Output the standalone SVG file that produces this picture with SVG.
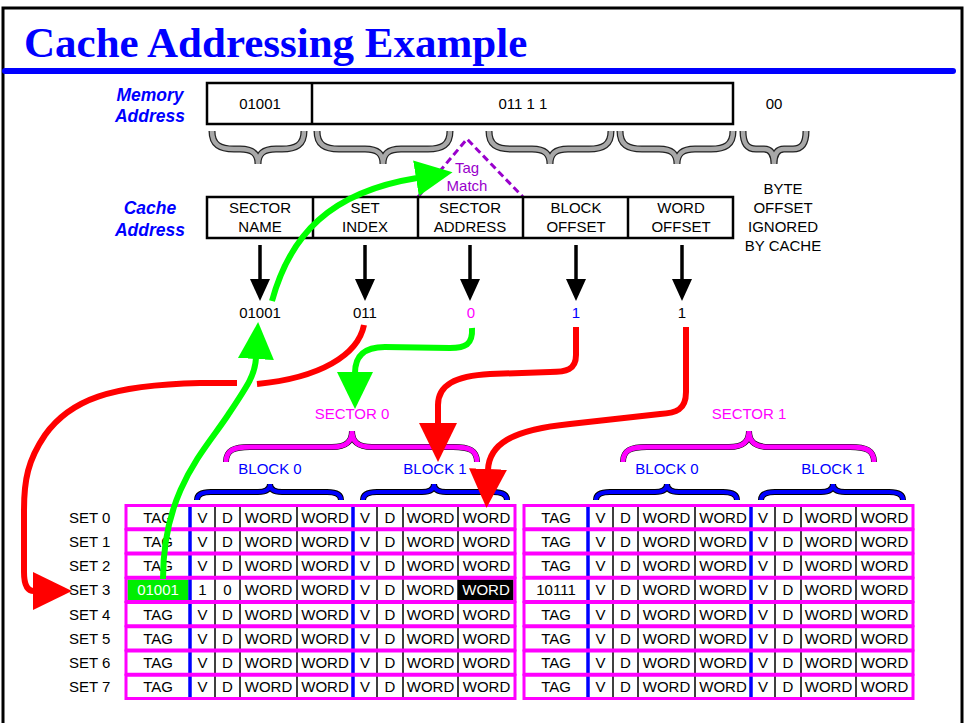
<svg xmlns="http://www.w3.org/2000/svg" width="966" height="723" viewBox="0 0 966 723">
  <style>
    .t { font-family: "Liberation Sans", Arial, Helvetica, sans-serif; font-size: 15px; text-anchor: middle; fill: #000; }
    .w { fill: #fff; }
    .lbl { font-family: "Liberation Sans", Arial, Helvetica, sans-serif; font-size: 17.5px; font-weight: bold; font-style: italic; text-anchor: middle; fill: #0000ff; }
    .box { fill: #fff; stroke: #000; stroke-width: 2.5; }
    .div { stroke: #000; stroke-width: 2.5; }
    .braceO { fill: none; stroke: #222; stroke-width: 7; }
    .braceG { fill: none; stroke: #a8a8a8; stroke-width: 4.5; }
    .braceM { fill: none; stroke: #ff00ff; stroke-width: 5; }
    .braceBO { fill: none; stroke: #000; stroke-width: 6; }
    .braceB { fill: none; stroke: #0000ff; stroke-width: 4; }
    .row { fill: none; stroke: #ff00ff; stroke-width: 3; }
    .cell { stroke: #000; stroke-width: 1.5; }
    .blk { stroke: #0000ff; stroke-width: 3.5; }
    .down { fill: none; stroke: #000; stroke-width: 3.5; marker-end: url(#headK); }
    .green { fill: none; stroke: #00ff00; stroke-width: 6; marker-end: url(#headG); }
    .red { fill: none; stroke: #ff0000; stroke-width: 6; }
  </style>
  <defs>
    <marker id="headK" markerUnits="userSpaceOnUse" markerWidth="24" markerHeight="24" viewBox="0 -12 24 24" refX="1" refY="0" orient="auto">
      <path d="M0,-10 L22,0 L0,10 Z" fill="#000"/>
    </marker>
    <marker id="headG" markerUnits="userSpaceOnUse" markerWidth="40" markerHeight="40" viewBox="0 -20 40 40" refX="1" refY="0" orient="auto">
      <path d="M0,-18 L37,0 L0,18 Z" fill="#00ff00"/>
    </marker>
    <marker id="headR" markerUnits="userSpaceOnUse" markerWidth="42" markerHeight="42" viewBox="0 -21 42 42" refX="1" refY="0" orient="auto">
      <path d="M0,-19 L39,0 L0,19 Z" fill="#ff0000"/>
    </marker>
  </defs>

  <rect width="966" height="723" fill="#fff"/>
  <!-- slide frame and heading -->
  <rect x="3" y="8" width="959" height="740" fill="none" stroke="#000" stroke-width="3"/>
  <g id="title">
    <text x="24" y="57" font-family="'Liberation Serif', 'Times New Roman', serif" font-size="43" font-weight="bold" fill="#0000ff">Cache Addressing Example</text>
    <path d="M5,71 L953,71" stroke="#0000ff" stroke-width="6" stroke-linecap="round"/>
  </g>

  <!-- memory address -->
  <g id="memory-address">
    <text class="lbl" x="150" y="101">Memory</text>
    <text class="lbl" x="150" y="122">Address</text>
    <rect class="box" x="207" y="83" width="526" height="41"/>
    <line class="div" x1="312" y1="83" x2="312" y2="124"/>
    <text class="t" x="260" y="109">01001</text>
    <text class="t" x="523" y="109">011 1 1</text>
    <text class="t" x="774" y="109">00</text>
  </g>

  <!-- field braces -->
  <g id="field-braces">
    <path class="braceO" d="M212,131 C212,145 220,149 234,149 L240,149 C252,149 258,153 258,164 C258,153 264,149 276,149 L282,149 C296,149 304,145 304,131"/>
    <path class="braceG" d="M212,131 C212,145 220,149 234,149 L240,149 C252,149 258,153 258,164 C258,153 264,149 276,149 L282,149 C296,149 304,145 304,131"/>
    <path class="braceO" d="M317,131 C317,145 325,149 339,149 L365,149 C377,149 383,153 383,164 C383,153 389,149 401,149 L428,149 C442,149 450,145 450,131"/>
    <path class="braceG" d="M317,131 C317,145 325,149 339,149 L365,149 C377,149 383,153 383,164 C383,153 389,149 401,149 L428,149 C442,149 450,145 450,131"/>
    <path class="braceO" d="M489,131 C489,145 497,149 511,149 L532,149 C544,149 550,153 550,164 C550,153 556,149 568,149 L589,149 C603,149 611,145 611,131"/>
    <path class="braceG" d="M489,131 C489,145 497,149 511,149 L532,149 C544,149 550,153 550,164 C550,153 556,149 568,149 L589,149 C603,149 611,145 611,131"/>
    <path class="braceO" d="M620,131 C620,145 628,149 642,149 L659,149 C671,149 677,153 677,164 C677,153 683,149 695,149 L711,149 C725,149 733,145 733,131"/>
    <path class="braceG" d="M620,131 C620,145 628,149 642,149 L659,149 C671,149 677,153 677,164 C677,153 683,149 695,149 L711,149 C725,149 733,145 733,131"/>
    <path class="braceO" d="M743,131 C743,145 748,149 756,149 L764,149 C770,149 774,153 774,164 C774,153 778,149 784,149 L793,149 C801,149 806,145 806,131"/>
    <path class="braceG" d="M743,131 C743,145 748,149 756,149 L764,149 C770,149 774,153 774,164 C774,153 778,149 784,149 L793,149 C801,149 806,145 806,131"/>
  </g>

  <!-- tag match -->
  <g id="tag-match">
    <polyline points="418,197 467,139 523,197" fill="none" stroke="#9900cc" stroke-width="3" stroke-dasharray="7 4"/>
    <text class="t" x="467" y="173" fill="#9900cc" style="fill:#9900cc">Tag</text>
    <text class="t" x="467" y="191" style="fill:#9900cc">Match</text>
  </g>

  <!-- cache address -->
  <g id="cache-address">
    <text class="lbl" x="150" y="214">Cache</text>
    <text class="lbl" x="150" y="236">Address</text>
    <rect class="box" x="207" y="197" width="526" height="41"/>
    <line class="div" x1="313" y1="197" x2="313" y2="238"/>
    <line class="div" x1="418" y1="197" x2="418" y2="238"/>
    <line class="div" x1="523" y1="197" x2="523" y2="238"/>
    <line class="div" x1="628" y1="197" x2="628" y2="238"/>
    <text class="t" x="260" y="213">SECTOR</text>
    <text class="t" x="260" y="232">NAME</text>
    <text class="t" x="365" y="213">SET</text>
    <text class="t" x="365" y="232">INDEX</text>
    <text class="t" x="470" y="213">SECTOR</text>
    <text class="t" x="470" y="232">ADDRESS</text>
    <text class="t" x="576" y="213">BLOCK</text>
    <text class="t" x="576" y="232">OFFSET</text>
    <text class="t" x="681" y="213">WORD</text>
    <text class="t" x="681" y="232">OFFSET</text>
  </g>
  <g id="byte-offset">
    <text class="t" x="783" y="194">BYTE</text>
    <text class="t" x="783" y="213">OFFSET</text>
    <text class="t" x="783" y="232">IGNORED</text>
    <text class="t" x="783" y="251">BY CACHE</text>
  </g>

  <!-- field values -->
  <g id="values">
    <text class="t" x="260" y="318">01001</text>
    <text class="t" x="365" y="318">011</text>
    <text class="t" x="471" y="318" style="fill:#ff00ff">0</text>
    <text class="t" x="576" y="318" style="fill:#0000ff">1</text>
    <text class="t" x="682" y="318">1</text>
  </g>

  <!-- sector and block labels -->
  <g id="sector-0">
    <text class="t" x="352" y="419" style="fill:#ff00ff">SECTOR 0</text>
    <path class="braceBO" d="M226,462 C226,450 234,447 250,447 L332,447 C346,447 352,442 352,431 C352,442 358,447 372,447 L453,447 C469,447 477,450 477,462"/>
    <path class="braceM" d="M226,462 C226,450 234,447 250,447 L332,447 C346,447 352,442 352,431 C352,442 358,447 372,447 L453,447 C469,447 477,450 477,462"/>
    <text class="t" x="270" y="474" style="fill:#0000ff">BLOCK 0</text>
    <text class="t" x="435" y="474" style="fill:#0000ff">BLOCK 1</text>
    <path class="braceBO" d="M197,500 C197,494 202,492 211,492 L258,492 C266,492 270,489 270,484 C270,489 274,492 282,492 L327,492 C336,492 341,494 341,500"/>
    <path class="braceB" d="M197,500 C197,494 202,492 211,492 L258,492 C266,492 270,489 270,484 C270,489 274,492 282,492 L327,492 C336,492 341,494 341,500"/>
    <path class="braceBO" d="M363,500 C363,494 368,492 377,492 L422,492 C430,492 434,489 434,484 C434,489 438,492 446,492 L493,492 C502,492 507,494 507,500"/>
    <path class="braceB" d="M363,500 C363,494 368,492 377,492 L422,492 C430,492 434,489 434,484 C434,489 438,492 446,492 L493,492 C502,492 507,494 507,500"/>
  </g>
  <g id="sector-1">
    <text class="t" x="749" y="419" style="fill:#ff00ff">SECTOR 1</text>
    <path class="braceBO" d="M623,462 C623,450 631,447 647,447 L729,447 C743,447 749,442 749,431 C749,442 755,447 769,447 L850,447 C866,447 874,450 874,462"/>
    <path class="braceM" d="M623,462 C623,450 631,447 647,447 L729,447 C743,447 749,442 749,431 C749,442 755,447 769,447 L850,447 C866,447 874,450 874,462"/>
    <text class="t" x="667" y="474" style="fill:#0000ff">BLOCK 0</text>
    <text class="t" x="833" y="474" style="fill:#0000ff">BLOCK 1</text>
    <path class="braceBO" d="M596,500 C596,494 601,492 610,492 L655,492 C663,492 667,489 667,484 C667,489 671,492 679,492 L723,492 C732,492 737,494 737,500"/>
    <path class="braceB" d="M596,500 C596,494 601,492 610,492 L655,492 C663,492 667,489 667,484 C667,489 671,492 679,492 L723,492 C732,492 737,494 737,500"/>
    <path class="braceBO" d="M761,500 C761,494 766,492 775,492 L821,492 C829,492 833,489 833,484 C833,489 837,492 845,492 L889,492 C898,492 903,494 903,500"/>
    <path class="braceB" d="M761,500 C761,494 766,492 775,492 L821,492 C829,492 833,489 833,484 C833,489 837,492 845,492 L889,492 C898,492 903,494 903,500"/>
  </g>

  <!-- set labels -->
  <g id="set-labels" class="t" style="text-anchor:start">
    <text x="69" y="522.5">SET 0</text>
    <text x="69" y="546.75">SET 1</text>
    <text x="69" y="571">SET 2</text>
    <text x="69" y="595.25">SET 3</text>
    <text x="69" y="619.5">SET 4</text>
    <text x="69" y="643.75">SET 5</text>
    <text x="69" y="668">SET 6</text>
    <text x="69" y="692.25">SET 7</text>
  </g>

  <!-- sector 0 cache lines -->
  <g id="table-sector-0">
    <rect x="127.5" y="579.5" width="61" height="21" fill="#00ee00"/>
    <rect x="458" y="579.5" width="55.5" height="21" fill="#000"/>
    <g>
      <line class="cell" x1="215" y1="505" x2="215" y2="699"/>
      <line class="cell" x1="240" y1="505" x2="240" y2="699"/>
      <line class="cell" x1="297" y1="505" x2="297" y2="699"/>
      <line class="cell" x1="377" y1="505" x2="377" y2="699"/>
      <line class="cell" x1="403" y1="505" x2="403" y2="699"/>
      <line class="cell" x1="458" y1="505" x2="458" y2="699"/>
      <line class="blk" x1="190" y1="505" x2="190" y2="699"/>
      <line class="blk" x1="353" y1="505" x2="353" y2="699"/>
    </g>
    <rect class="row" x="126" y="505.5" width="389" height="23.25"/>
    <rect class="row" x="126" y="529.75" width="389" height="23.25"/>
    <rect class="row" x="126" y="554" width="389" height="23.25"/>
    <rect class="row" x="126" y="578.25" width="389" height="23.25"/>
    <rect class="row" x="126" y="602.5" width="389" height="23.25"/>
    <rect class="row" x="126" y="626.75" width="389" height="23.25"/>
    <rect class="row" x="126" y="651" width="389" height="23.25"/>
    <rect class="row" x="126" y="675.25" width="389" height="23.25"/>
    <text class="t" y="522.5"><tspan x="158">TAG</tspan><tspan x="202.5">V</tspan><tspan x="227.5">D</tspan><tspan x="268.5">WORD</tspan><tspan x="325">WORD</tspan><tspan x="365">V</tspan><tspan x="390">D</tspan><tspan x="430.5">WORD</tspan><tspan x="486.5">WORD</tspan></text>
    <text class="t" y="546.75"><tspan x="158">TAG</tspan><tspan x="202.5">V</tspan><tspan x="227.5">D</tspan><tspan x="268.5">WORD</tspan><tspan x="325">WORD</tspan><tspan x="365">V</tspan><tspan x="390">D</tspan><tspan x="430.5">WORD</tspan><tspan x="486.5">WORD</tspan></text>
    <text class="t" y="571"><tspan x="158">TAG</tspan><tspan x="202.5">V</tspan><tspan x="227.5">D</tspan><tspan x="268.5">WORD</tspan><tspan x="325">WORD</tspan><tspan x="365">V</tspan><tspan x="390">D</tspan><tspan x="430.5">WORD</tspan><tspan x="486.5">WORD</tspan></text>
    <text class="t w" x="158" y="595.25">01001</text>
    <text class="t" y="595.25"><tspan x="202.5">1</tspan><tspan x="227.5">0</tspan><tspan x="268.5">WORD</tspan><tspan x="325">WORD</tspan><tspan x="365">V</tspan><tspan x="390">D</tspan><tspan x="430.5">WORD</tspan></text>
    <text class="t w" x="486" y="595.25">WORD</text>
    <text class="t" y="619.5"><tspan x="158">TAG</tspan><tspan x="202.5">V</tspan><tspan x="227.5">D</tspan><tspan x="268.5">WORD</tspan><tspan x="325">WORD</tspan><tspan x="365">V</tspan><tspan x="390">D</tspan><tspan x="430.5">WORD</tspan><tspan x="486.5">WORD</tspan></text>
    <text class="t" y="643.75"><tspan x="158">TAG</tspan><tspan x="202.5">V</tspan><tspan x="227.5">D</tspan><tspan x="268.5">WORD</tspan><tspan x="325">WORD</tspan><tspan x="365">V</tspan><tspan x="390">D</tspan><tspan x="430.5">WORD</tspan><tspan x="486.5">WORD</tspan></text>
    <text class="t" y="668"><tspan x="158">TAG</tspan><tspan x="202.5">V</tspan><tspan x="227.5">D</tspan><tspan x="268.5">WORD</tspan><tspan x="325">WORD</tspan><tspan x="365">V</tspan><tspan x="390">D</tspan><tspan x="430.5">WORD</tspan><tspan x="486.5">WORD</tspan></text>
    <text class="t" y="692.25"><tspan x="158">TAG</tspan><tspan x="202.5">V</tspan><tspan x="227.5">D</tspan><tspan x="268.5">WORD</tspan><tspan x="325">WORD</tspan><tspan x="365">V</tspan><tspan x="390">D</tspan><tspan x="430.5">WORD</tspan><tspan x="486.5">WORD</tspan></text>
  </g>

  <!-- sector 1 cache lines -->
  <g id="table-sector-1">
    <g>
      <line class="cell" x1="613" y1="505" x2="613" y2="699"/>
      <line class="cell" x1="638" y1="505" x2="638" y2="699"/>
      <line class="cell" x1="695" y1="505" x2="695" y2="699"/>
      <line class="cell" x1="775" y1="505" x2="775" y2="699"/>
      <line class="cell" x1="801" y1="505" x2="801" y2="699"/>
      <line class="cell" x1="856" y1="505" x2="856" y2="699"/>
      <line class="blk" x1="588" y1="505" x2="588" y2="699"/>
      <line class="blk" x1="751" y1="505" x2="751" y2="699"/>
    </g>
    <rect class="row" x="524" y="505.5" width="389" height="23.25"/>
    <rect class="row" x="524" y="529.75" width="389" height="23.25"/>
    <rect class="row" x="524" y="554" width="389" height="23.25"/>
    <rect class="row" x="524" y="578.25" width="389" height="23.25"/>
    <rect class="row" x="524" y="602.5" width="389" height="23.25"/>
    <rect class="row" x="524" y="626.75" width="389" height="23.25"/>
    <rect class="row" x="524" y="651" width="389" height="23.25"/>
    <rect class="row" x="524" y="675.25" width="389" height="23.25"/>
    <text class="t" y="522.5"><tspan x="556">TAG</tspan><tspan x="600.5">V</tspan><tspan x="625.5">D</tspan><tspan x="666.5">WORD</tspan><tspan x="723">WORD</tspan><tspan x="763">V</tspan><tspan x="788">D</tspan><tspan x="828.5">WORD</tspan><tspan x="884.5">WORD</tspan></text>
    <text class="t" y="546.75"><tspan x="556">TAG</tspan><tspan x="600.5">V</tspan><tspan x="625.5">D</tspan><tspan x="666.5">WORD</tspan><tspan x="723">WORD</tspan><tspan x="763">V</tspan><tspan x="788">D</tspan><tspan x="828.5">WORD</tspan><tspan x="884.5">WORD</tspan></text>
    <text class="t" y="571"><tspan x="556">TAG</tspan><tspan x="600.5">V</tspan><tspan x="625.5">D</tspan><tspan x="666.5">WORD</tspan><tspan x="723">WORD</tspan><tspan x="763">V</tspan><tspan x="788">D</tspan><tspan x="828.5">WORD</tspan><tspan x="884.5">WORD</tspan></text>
    <text class="t" y="595.25"><tspan x="556">10111</tspan><tspan x="600.5">V</tspan><tspan x="625.5">D</tspan><tspan x="666.5">WORD</tspan><tspan x="723">WORD</tspan><tspan x="763">V</tspan><tspan x="788">D</tspan><tspan x="828.5">WORD</tspan><tspan x="884.5">WORD</tspan></text>
    <text class="t" y="619.5"><tspan x="556">TAG</tspan><tspan x="600.5">V</tspan><tspan x="625.5">D</tspan><tspan x="666.5">WORD</tspan><tspan x="723">WORD</tspan><tspan x="763">V</tspan><tspan x="788">D</tspan><tspan x="828.5">WORD</tspan><tspan x="884.5">WORD</tspan></text>
    <text class="t" y="643.75"><tspan x="556">TAG</tspan><tspan x="600.5">V</tspan><tspan x="625.5">D</tspan><tspan x="666.5">WORD</tspan><tspan x="723">WORD</tspan><tspan x="763">V</tspan><tspan x="788">D</tspan><tspan x="828.5">WORD</tspan><tspan x="884.5">WORD</tspan></text>
    <text class="t" y="668"><tspan x="556">TAG</tspan><tspan x="600.5">V</tspan><tspan x="625.5">D</tspan><tspan x="666.5">WORD</tspan><tspan x="723">WORD</tspan><tspan x="763">V</tspan><tspan x="788">D</tspan><tspan x="828.5">WORD</tspan><tspan x="884.5">WORD</tspan></text>
    <text class="t" y="692.25"><tspan x="556">TAG</tspan><tspan x="600.5">V</tspan><tspan x="625.5">D</tspan><tspan x="666.5">WORD</tspan><tspan x="723">WORD</tspan><tspan x="763">V</tspan><tspan x="788">D</tspan><tspan x="828.5">WORD</tspan><tspan x="884.5">WORD</tspan></text>
  </g>

  <!-- connectors -->
  <g id="connectors">
    <path class="down" d="M260,245 L260,280"/>
    <path class="down" d="M365,245 L365,280"/>
    <path class="down" d="M470,245 L470,280"/>
    <path class="down" d="M576,245 L576,280"/>
    <path class="down" d="M682,245 L682,280"/>

    <!-- set index selects the row -->
    <path class="red" d="M364,325 C358,355 320,378 257,384"/>
    <path class="red" marker-end="url(#headR)" d="M237,383 L200,383 C110,385 70,400 45,435 C28,460 24,480 24,510 L24,572 Q24,591 34,591"/>

    <!-- stored tag back to the compare -->
    <path class="green" d="M163,579 C163,490 205,450 228,415 C248,385 255,375 256,358"/>
    <path class="green" d="M272,301 C290,235 330,192 417,178"/>

    <!-- sector address selects the sector -->
    <path class="green" d="M472,328 C473,345 465,348 450,348 L385,347 C362,347 355,358 355,373"/>

    <!-- block offset and word offset -->
    <path class="red" marker-end="url(#headR)" d="M576,327 L576,355 C576,370 566,372 550,372 L490,374 C455,376 438,385 438,405 L438,424"/>
    <path class="red" marker-end="url(#headR)" d="M686,327 L686,392 C686,410 676,413 660,414 L570,424 C510,430 489,445 488,470"/>
  </g>
</svg>
